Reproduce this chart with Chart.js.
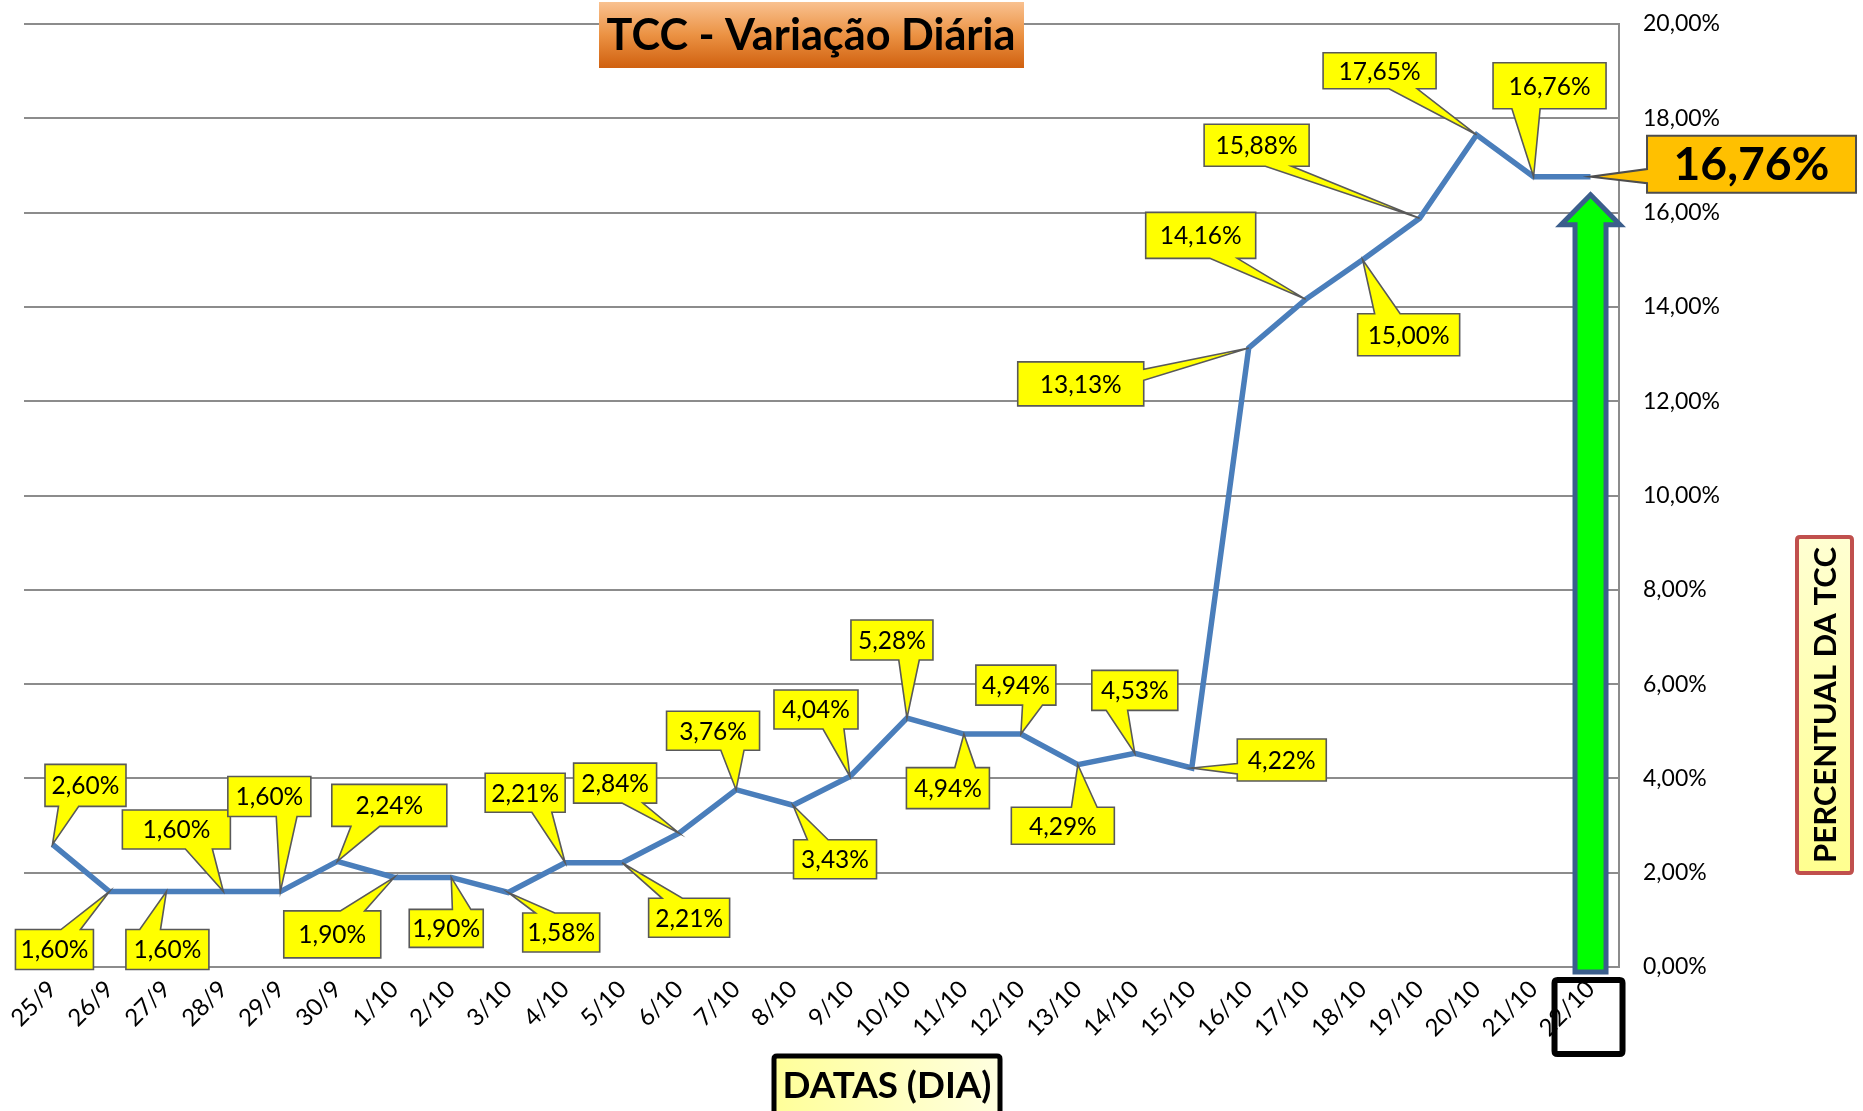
<!DOCTYPE html>
<html>
<head>
<meta charset="utf-8">
<script src="https://cdn.jsdelivr.net/npm/chart.js@4.4.1/dist/chart.umd.min.js"></script>
<style>
  html, body { margin: 0; padding: 0; background: #ffffff; }
  #wrap { width: 1863px; height: 1111px; }
</style>
</head>
<body>
<div id="wrap"><canvas id="c" width="1863" height="1111"></canvas></div>
<script>
// ---------------- DATA ----------------
const categories = ['25/9','26/9','27/9','28/9','29/9','30/9','1/10','2/10','3/10','4/10','5/10','6/10','7/10','8/10','9/10','10/10','11/10','12/10','13/10','14/10','15/10','16/10','17/10','18/10','19/10','20/10','21/10','22/10'];
const tccValues = [2.60,1.60,1.60,1.60,1.60,2.24,1.90,1.90,1.58,2.21,2.21,2.84,3.76,3.43,4.04,5.28,4.94,4.94,4.29,4.53,4.22,13.13,14.16,15.00,15.88,17.65,16.76,16.76];
const yTickValues = [0,2,4,6,8,10,12,14,16,18,20];
const titleText = 'TCC - Variação Diária';
const xAxisTitle = 'DATAS (DIA)';
const yAxisTitle = 'PERCENTUAL DA TCC';

// ---------------- LAYOUT / STYLE (not data) ----------------
// callout box: [dx, dy (box centre relative to point), width, height]
const calloutLayout = [
  [33,-59,81,42],[-55,58,78,40],[1,58,83,40],[-47,-62,108,39],[-11,-95,83,40],
  [52,-56,115,42],[-62,57,97,47],[-5,51,74,38],[53,40,77,39],[-40,-70,80,39],
  [67,55,81,39],[-64,-50,83,40],[-23,-59,93,39],[42,54,83,39],[-34,-67,84,39],
  [-15,-78,82,40],[-16,54,83,41],[-5,-49,80,40],[-15,61,103,37],[0,-63,86,40],
  [90,-8,89,42],[-168,36,126,44],[-105,-64,110,46],[46,75,102,42],[-163,-73,105,42],
  [-97,-64,113,36],[16,-91,113,46],[161,-12.5,209,57]
];
const FONT = 'Lato';

function fmtPct(v) { return Number(v).toFixed(2).replace('.', ',') + '%'; }

function fitFont(ctx, text, weight, targetW) {
  ctx.font = weight + ' 100px ' + FONT;
  const w = ctx.measureText(text).width;
  return 100 * targetW / w;
}

function calloutPath(ctx, tx, ty, l, t, w, h) {
  const r = l + w, b = t + h;
  const hc = l + w / 2, vc = t + h / 2;
  const dxPos = tx - hc, dyPos = ty - vc;
  const dq = dxPos * h / w;
  const dz = Math.abs(dyPos) - Math.abs(dq);
  const x1 = l + w * (dxPos > 0 ? 7 : 2) / 12, x2 = l + w * (dxPos > 0 ? 10 : 5) / 12;
  const y1 = t + h * (dyPos > 0 ? 7 : 2) / 12, y2 = t + h * (dyPos > 0 ? 10 : 5) / 12;
  let edge;
  if (dz > 0) edge = dyPos < 0 ? 'top' : 'bottom'; else edge = dxPos < 0 ? 'left' : 'right';
  ctx.beginPath();
  ctx.moveTo(l, t);
  if (edge === 'top') { ctx.lineTo(x1, t); ctx.lineTo(tx, ty); ctx.lineTo(x2, t); }
  ctx.lineTo(r, t);
  if (edge === 'right') { ctx.lineTo(r, y1); ctx.lineTo(tx, ty); ctx.lineTo(r, y2); }
  ctx.lineTo(r, b);
  if (edge === 'bottom') { ctx.lineTo(x2, b); ctx.lineTo(tx, ty); ctx.lineTo(x1, b); }
  ctx.lineTo(l, b);
  if (edge === 'left') { ctx.lineTo(l, y2); ctx.lineTo(tx, ty); ctx.lineTo(l, y1); }
  ctx.closePath();
}

function roundRect(ctx, x, y, w, h, r) {
  ctx.beginPath();
  ctx.moveTo(x + r, y);
  ctx.lineTo(x + w - r, y); ctx.quadraticCurveTo(x + w, y, x + w, y + r);
  ctx.lineTo(x + w, y + h - r); ctx.quadraticCurveTo(x + w, y + h, x + w - r, y + h);
  ctx.lineTo(x + r, y + h); ctx.quadraticCurveTo(x, y + h, x, y + h - r);
  ctx.lineTo(x, y + r); ctx.quadraticCurveTo(x, y, x + r, y);
  ctx.closePath();
}

const decorPlugin = {
  id: 'decor',
  afterDatasetsDraw(chart) {
    const ctx = chart.ctx;
    const meta = chart.getDatasetMeta(0);
    const xs = chart.scales.x, ys = chart.scales.y;
    const n = tccValues.length;

    // green arrow at last category
    const ax = xs.getPixelForValue(n - 1);
    const tipY = ys.getPixelForValue(tccValues[n - 1]) + 18;
    const baseY = ys.getPixelForValue(0) + 5;
    const sh = 15.5, hh = 29.5, headH = 30;
    ctx.save();
    ctx.beginPath();
    ctx.moveTo(ax, tipY);
    ctx.lineTo(ax + hh, tipY + headH);
    ctx.lineTo(ax + sh, tipY + headH);
    ctx.lineTo(ax + sh, baseY);
    ctx.lineTo(ax - sh, baseY);
    ctx.lineTo(ax - sh, tipY + headH);
    ctx.lineTo(ax - hh, tipY + headH);
    ctx.closePath();
    ctx.fillStyle = '#00ff00';
    ctx.fill();
    ctx.lineWidth = 5;
    ctx.lineJoin = 'miter';
    ctx.strokeStyle = '#3b5e8c';
    ctx.stroke();
    ctx.restore();

    // callouts
    meta.data.forEach((pt, i) => {
      const L = calloutLayout[i];
      if (!L) return;
      const [dx, dy, w, h] = L;
      const big = (i === n - 1);
      const l = pt.x + dx - w / 2, t = pt.y + dy - h / 2;
      ctx.save();
      calloutPath(ctx, pt.x, pt.y, l, t, w, h);
      ctx.fillStyle = big ? '#ffc000' : '#ffff00';
      ctx.fill();
      ctx.lineWidth = big ? 2 : 1.6;
      ctx.lineJoin = 'miter';
      ctx.strokeStyle = big ? '#4d4d4d' : '#595959';
      ctx.stroke();
      const txt = fmtPct(tccValues[i]);
      ctx.fillStyle = '#000';
      ctx.textAlign = 'center';
      ctx.textBaseline = 'middle';
      if (big) {
        ctx.font = 'bold ' + fitFont(ctx, txt, 'bold', 156) + 'px ' + FONT;
      } else {
        ctx.font = '24.5px ' + FONT;
      }
      ctx.fillText(txt, l + w / 2, t + h / 2 + 1);
      ctx.restore();
    });
  },
  afterDraw(chart) {
    const ctx = chart.ctx;
    const xs = chart.scales.x;
    const n = tccValues.length;
    ctx.save();

    // title box
    const g1 = ctx.createLinearGradient(0, 2, 0, 68);
    g1.addColorStop(0, '#f9c190');
    g1.addColorStop(0.5, '#eb9243');
    g1.addColorStop(1, '#d0600f');
    ctx.fillStyle = g1;
    ctx.fillRect(599, 2, 425, 66);
    ctx.fillStyle = '#000';
    ctx.textAlign = 'center';
    ctx.textBaseline = 'alphabetic';
    ctx.font = 'bold ' + fitFont(ctx, titleText, 'bold', 409) + 'px ' + FONT;
    ctx.fillText(titleText, 811, 50);

    // x-axis title box
    const g2 = ctx.createLinearGradient(774, 0, 1000, 0);
    g2.addColorStop(0, '#ffff99');
    g2.addColorStop(1, '#ffffe0');
    ctx.fillStyle = g2;
    roundRect(ctx, 774, 1056, 226, 70, 3);
    ctx.fill();
    ctx.lineWidth = 5;
    ctx.strokeStyle = '#000';
    ctx.stroke();
    ctx.fillStyle = '#000';
    ctx.font = 'bold ' + fitFont(ctx, xAxisTitle, 'bold', 209) + 'px ' + FONT;
    ctx.fillText(xAxisTitle, 887, 1098);

    // y-axis title box (vertical)
    const g3 = ctx.createLinearGradient(0, 873, 0, 537);
    g3.addColorStop(0, '#ffff8f');
    g3.addColorStop(1, '#ffffd2');
    ctx.fillStyle = g3;
    roundRect(ctx, 1797, 537, 55, 336, 3);
    ctx.fill();
    ctx.lineWidth = 4;
    ctx.strokeStyle = '#c0504d';
    ctx.stroke();
    ctx.save();
    ctx.translate(1825, 705);
    ctx.rotate(-Math.PI / 2);
    ctx.fillStyle = '#000';
    ctx.textAlign = 'center';
    ctx.textBaseline = 'middle';
    ctx.font = 'bold ' + fitFont(ctx, yAxisTitle, 'bold', 316) + 'px ' + FONT;
    ctx.fillText(yAxisTitle, 0, 1);
    ctx.restore();

    // highlight box around last category label
    const lx = xs.getPixelForValue(n - 1);
    roundRect(ctx, lx - 36, 980, 68, 74, 3);
    ctx.lineWidth = 6;
    ctx.strokeStyle = '#000';
    ctx.stroke();
    ctx.restore();
  }
};

const ctx = document.getElementById('c').getContext('2d');
new Chart(ctx, {
  type: 'line',
  data: {
    labels: categories,
    datasets: [{
      label: 'TCC',
      data: tccValues,
      borderColor: '#4a7ebb',
      borderWidth: 5.5,
      pointRadius: 0,
      tension: 0,
      fill: false,
      borderJoinStyle: 'miter'
    }]
  },
  options: {
    responsive: false,
    animation: false,
    layout: { padding: { left: 24, top: 24, right: 0, bottom: 0 } },
    plugins: {
      legend: { display: false },
      tooltip: { enabled: false },
      title: { display: false }
    },
    scales: {
      x: {
        type: 'category',
        offset: true,
        grid: { display: false, drawTicks: false },
        border: { display: true, color: '#8c8c8c', width: 2 },
        ticks: {
          autoSkip: false, maxRotation: 45, minRotation: 45,
          font: { family: FONT, size: 24 }, color: '#000', padding: 8
        },
        afterFit(s) { s.height = 144; }
      },
      y: {
        position: 'right',
        min: 0, max: 20,
        afterBuildTicks(s) { s.ticks = yTickValues.map(v => ({ value: v })); },
        ticks: {
          callback: v => fmtPct(v),
          font: { family: FONT, size: 23 }, color: '#000', padding: 24
        },
        grid: { color: '#8c8c8c', lineWidth: 2, drawTicks: false },
        border: { display: true, color: '#8c8c8c', width: 2 },
        afterFit(s) { s.width = 244; s.paddingTop = 0; s.paddingBottom = 0; }
      }
    }
  },
  plugins: [decorPlugin]
});
</script>
</body>
</html>
